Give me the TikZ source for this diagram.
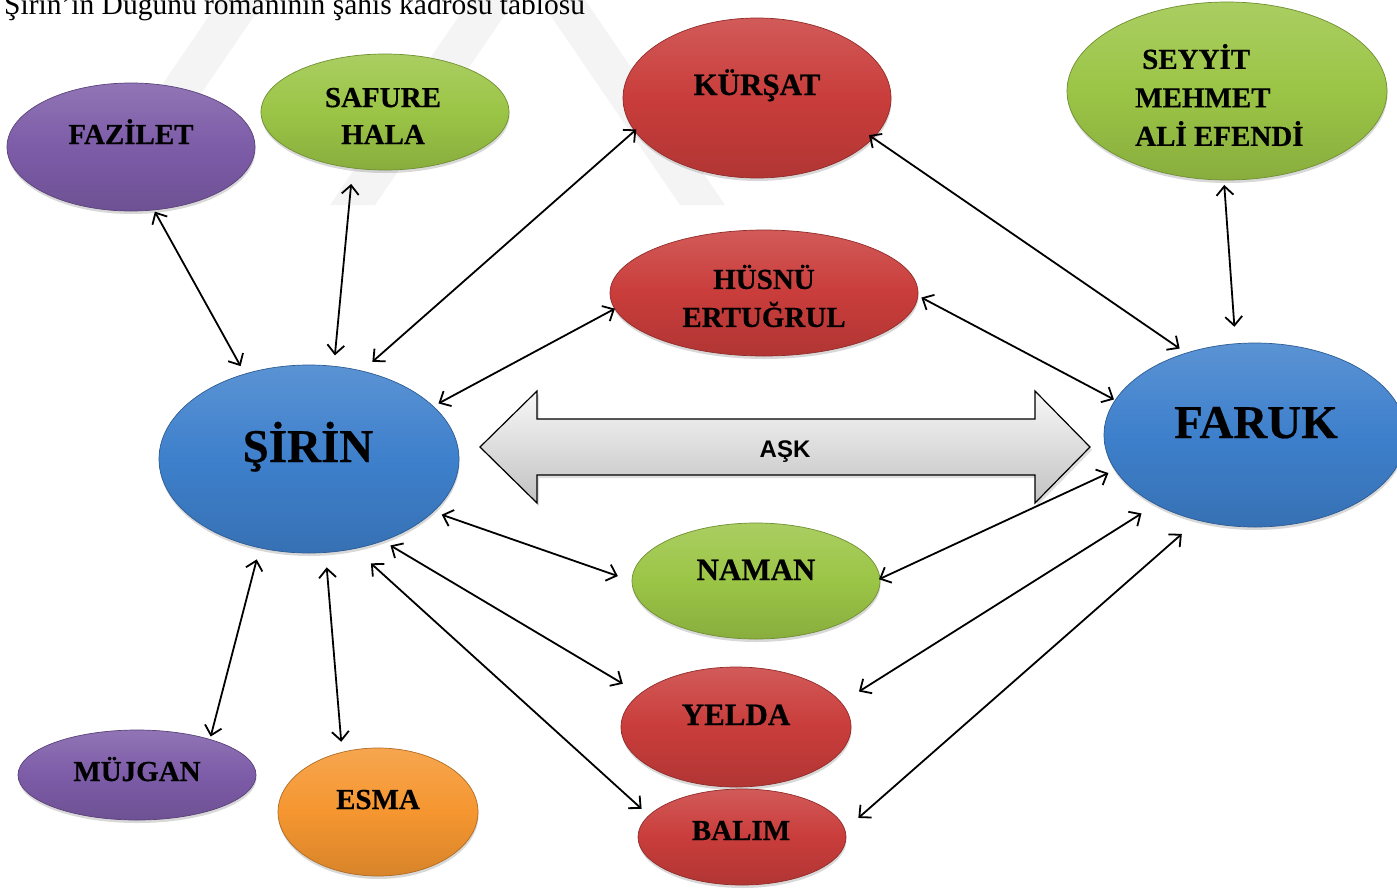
\documentclass[tikz,border=0pt]{standalone}
\usepackage{fontspec}
\setmainfont{Liberation Serif}
\newfontface\namefont{Liberation Serif Bold}[FakeBold=0.5]
\newfontfamily\labelsans{Liberation Sans}
\usetikzlibrary{shapes.geometric, arrows.meta, shadows}

\definecolor{bubbleblue}{RGB}{62,128,204}
\definecolor{bubblered}{RGB}{201,61,59}
\definecolor{bubblegreen}{RGB}{155,197,70}
\definecolor{bubblepurple}{RGB}{125,92,168}
\definecolor{bubbleorange}{RGB}{245,150,48}
\definecolor{markgray}{RGB}{244,244,244}

\tikzset{
  bubble/.style={ellipse, inner sep=0pt, outer sep=0pt, line width=0.7pt,
    draw=#1!72!black, top color=#1!85!white, bottom color=#1!88!black, middle color=#1,
    drop shadow={opacity=0.3, shadow xshift=0.5pt, shadow yshift=-3pt}},
  who/.style={font=\namefont\fontsize{29}{37}\selectfont, text=black, inner sep=0pt},
  bigwho/.style={font=\namefont\fontsize{47}{50}\selectfont, text=black, inner sep=0pt},
  link/.style={draw=black, line width=1.8pt, {Straight Barb[length=9pt,width=17pt]}-{Straight Barb[length=9pt,width=17pt]}},
  lovearrow/.style={draw=black, line width=1.2pt, top color=black!3, bottom color=black!24,
    drop shadow={opacity=0.25, shadow xshift=2pt, shadow yshift=-3pt}},
  band/.style={fill=markgray}
}

\begin{document}
\begin{tikzpicture}[x=1pt, y=-1pt]
\fill[white] (0,0) rectangle (1397,889);
\useasboundingbox (0,0) rectangle (1397,889);

% faint background bands
\fill[band] (80,205) -- (125,205) -- (265,0) -- (220,0) -- cycle;
\fill[band] (330,205) -- (375,205) -- (515,0) -- (470,0) -- cycle;
\fill[band] (540,0) -- (585,0) -- (725,205) -- (680,205) -- cycle;

% heading line
\node[anchor=base west, inner sep=0pt, font=\fontsize{29.5}{30}\selectfont] (title) at (4,14) {Şirin'in Düğünü romanının şahıs kadrosu tablosu};

% characters
\node[bubble=bubblepurple, minimum width=248pt, minimum height=128pt] (faz) at (131,147) {};
\node[bubble=bubblegreen,  minimum width=248pt, minimum height=116pt] (saf) at (385,112) {};
\node[bubble=bubblered,    minimum width=268pt, minimum height=160pt] (kur) at (757,98) {};
\node[bubble=bubblegreen,  minimum width=320pt, minimum height=178pt] (sey) at (1227,91) {};
\node[bubble=bubblered,    minimum width=308pt, minimum height=126pt] (hus) at (764,293) {};
\node[bubble=bubbleblue,   minimum width=300pt, minimum height=188pt] (sir) at (309,459) {};
\node[bubble=bubbleblue,   minimum width=302pt, minimum height=184pt] (far) at (1255,435) {};
\node[bubble=bubblegreen,  minimum width=248pt, minimum height=116pt] (nam) at (756,581) {};
\node[bubble=bubblered,    minimum width=230pt, minimum height=120pt] (yel) at (736,727) {};
\node[bubble=bubblered,    minimum width=208pt, minimum height=96pt]  (bal) at (742,837) {};
\node[bubble=bubblepurple, minimum width=238pt, minimum height=90pt]  (mjg) at (137,775) {};
\node[bubble=bubbleorange, minimum width=200pt, minimum height=128pt] (esm) at (378,812) {};

% names
\node[who, anchor=base] (faz-t) at (131,144) {FAZİLET};
\node[who, align=center] (saf-t) at (383,116) {SAFURE\\HALA};
\node[who, anchor=base, font=\namefont\fontsize{31}{37}\selectfont] (kur-t) at (757,95) {KÜRŞAT};
\node[who, align=left, anchor=west, font=\namefont\fontsize{29}{38.5}\selectfont] (sey-t) at (1135,95) {\hspace*{7pt}SEYYİT\\MEHMET\\ALİ EFENDİ};
\node[who, align=center, font=\namefont\fontsize{29}{38}\selectfont] (hus-t) at (764,296) {HÜSNÜ\\ERTUĞRUL};
\node[bigwho, anchor=base] (sir-t) at (308,462) {ŞİRİN};
\node[bigwho, anchor=base] (far-t) at (1256,438) {FARUK};
\node[who, anchor=base, font=\namefont\fontsize{31}{37}\selectfont] (nam-t) at (756,580) {NAMAN};
\node[who, anchor=base, font=\namefont\fontsize{31}{37}\selectfont] (yel-t) at (736,725) {YELDA};
\node[who, anchor=base] (bal-t) at (741,840) {BALIM};
\node[who, anchor=base] (mjg-t) at (137,781) {MÜJGAN};
\node[who, anchor=base] (esm-t) at (378,809) {ESMA};

% the love arrow between the two leads
\draw[lovearrow] (480,447) -- (537,391) -- (537,419) -- (1035,419) -- (1035,391)
  -- (1090,447) -- (1035,503) -- (1035,475) -- (537,475) -- (537,503) -- cycle;
\node[inner sep=0pt, anchor=base, font=\labelsans\bfseries\fontsize{24}{26}\selectfont] (ask) at (785,457) {AŞK};

% relations
\draw[link, shorten <=2pt,  shorten >=9pt]    (faz.290)   -- (sir.127);
\draw[link, shorten <=16pt, shorten >=11pt]   (saf.240)   -- (sir.75);
\draw[link, shorten <=-2pt, shorten >=14pt]   (kur.195)   -- (sir.59);
\draw[link, shorten <=0pt,  shorten >=6pt]    (hus.186)   -- (sir.23.5);
\draw[link, shorten <=-5pt, shorten >=8pt]    (kur.341)   -- (far.130);
\draw[link, shorten <=5pt,  shorten >=17pt]   (sey.268)   -- (far.102);
\draw[link, shorten <=4pt,  shorten >=1.5pt]  (hus.359)   -- (far.166.5);
\draw[link, shorten <=9pt,  shorten >=15pt]   (sir.337)   -- (nam.180);
\draw[link, shorten <=-1pt, shorten >=7.5pt]  (nam.1)     -- (far.194.6);
\draw[link, shorten <=9pt,  shorten >=20pt]   (sir.312.6) -- (yel.161);
\draw[link, shorten <=21pt, shorten >=17pt]   (yel.13)    -- (far.215);
\draw[link, shorten <=22pt, shorten >=10pt]   (sir.297)   -- (bal.167.5);
\draw[link, shorten <=18pt, shorten >=21pt]   (bal.4)     -- (far.236.6);
\draw[link, shorten <=12pt, shorten >=3pt]    (sir.241.6) -- (mjg.26);
\draw[link, shorten <=15pt, shorten >=10.5pt] (sir.280)   -- (esm.121);
\end{tikzpicture}
\end{document}
